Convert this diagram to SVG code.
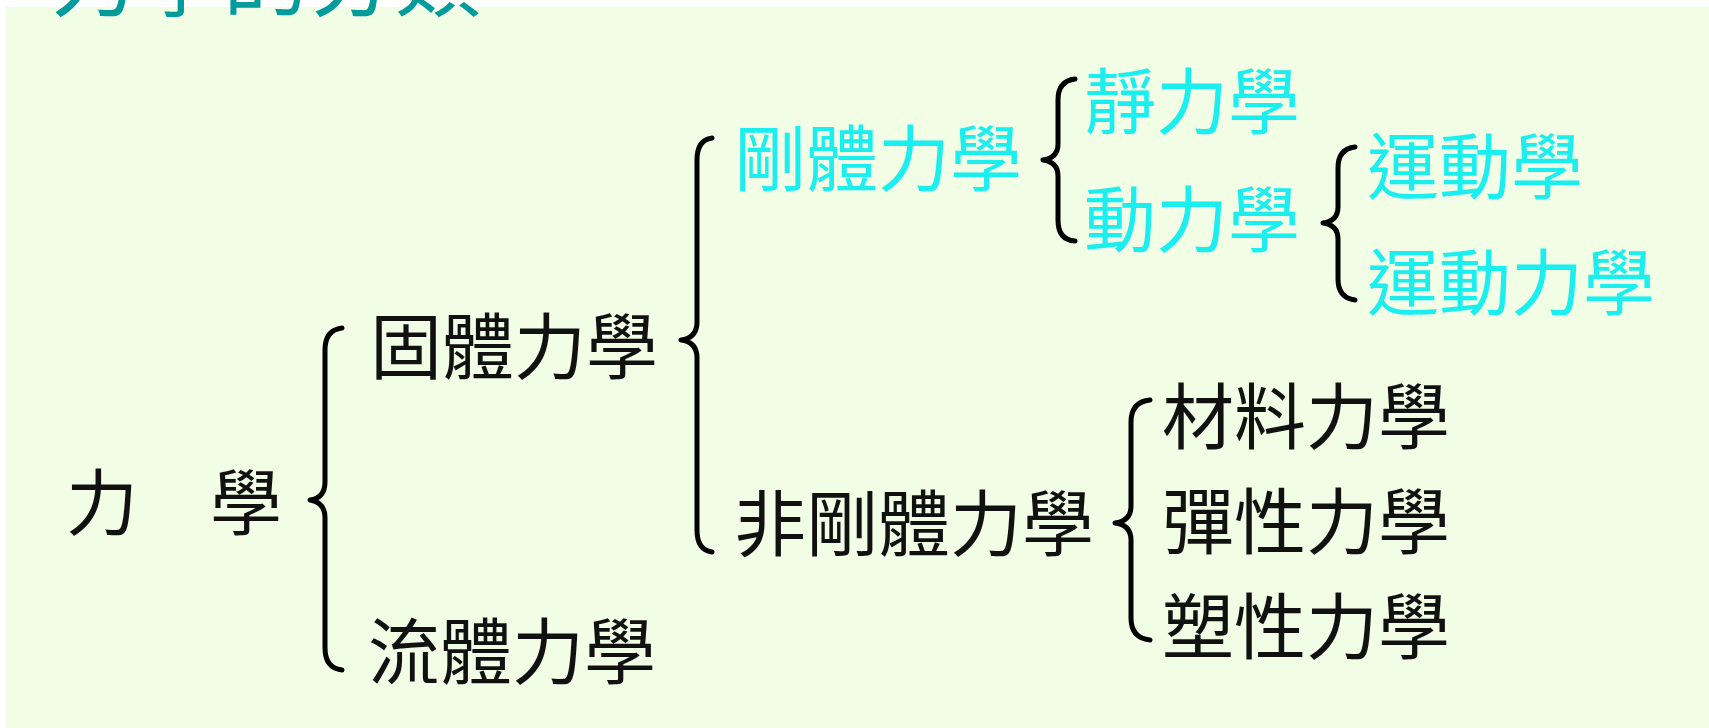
<svg xmlns="http://www.w3.org/2000/svg" width="1709" height="728" viewBox="0 0 1709 728">
<style>
text{font-family:"Noto Sans CJK TC","Noto Sans CJK SC",sans-serif;font-size:72px;}
.k{fill:#111111;}
.c{fill:#1aeeee;}
.t{fill:#009b9b;font-size:86px;}
.br{fill:none;stroke:#000;stroke-width:5;stroke-linecap:round;stroke-linejoin:round;}
</style>
<rect x="0" y="0" width="1709" height="728" fill="#ffffff"/>
<rect x="6" y="7" width="1703" height="721" fill="#f2fde6"/>
<g id="title"><text class="t" x="51" y="10">力學的分類</text></g>
<g id="connectors">
<path class="br" d="M342,328 Q325,330 325,350 L325,482 Q325,498 310,500 Q325,502 325,518 L325,648 Q325,668 342,670"/>
<path class="br" d="M712,138 Q697,140 697,160 L697,322 Q697,338 681,340 Q697,342 697,358 L697,530 Q697,550 712,552"/>
<path class="br" d="M1075,79 Q1058,81 1058,100 L1058,144 Q1058,158 1043,160 Q1058,162 1058,176 L1058,220 Q1058,240 1075,241"/>
<path class="br" d="M1355,147 Q1338,149 1338,168 L1338,207 Q1338,221 1323,223 Q1338,225 1338,239 L1338,279 Q1338,298 1355,300"/>
<path class="br" d="M1150,400 Q1131,402 1131,422 L1131,506 Q1131,521 1115,523 Q1131,525 1131,540 L1131,618 Q1131,638 1150,640"/>
</g>
<g id="n-lixue"><text class="k" x="66" y="529">力　學</text></g>
<g id="n-guti"><text class="k" x="370" y="373">固體力學</text></g>
<g id="n-liuti"><text class="k" x="368" y="678">流體力學</text></g>
<g id="n-gangti"><text class="c" x="734" y="185">剛體力學</text></g>
<g id="n-jing"><text class="c" x="1084" y="128">靜力學</text></g>
<g id="n-dong"><text class="c" x="1084" y="246">動力學</text></g>
<g id="n-yundong"><text class="c" x="1367" y="193">運動學</text></g>
<g id="n-yundongli"><text class="c" x="1367" y="309">運動力學</text></g>
<g id="n-feigangti"><text class="k" x="734" y="550">非剛體力學</text></g>
<g id="n-cailiao"><text class="k" x="1162" y="443">材料力學</text></g>
<g id="n-tanxing"><text class="k" x="1162" y="548">彈性力學</text></g>
<g id="n-suxing"><text class="k" x="1162" y="653">塑性力學</text></g>
</svg>
